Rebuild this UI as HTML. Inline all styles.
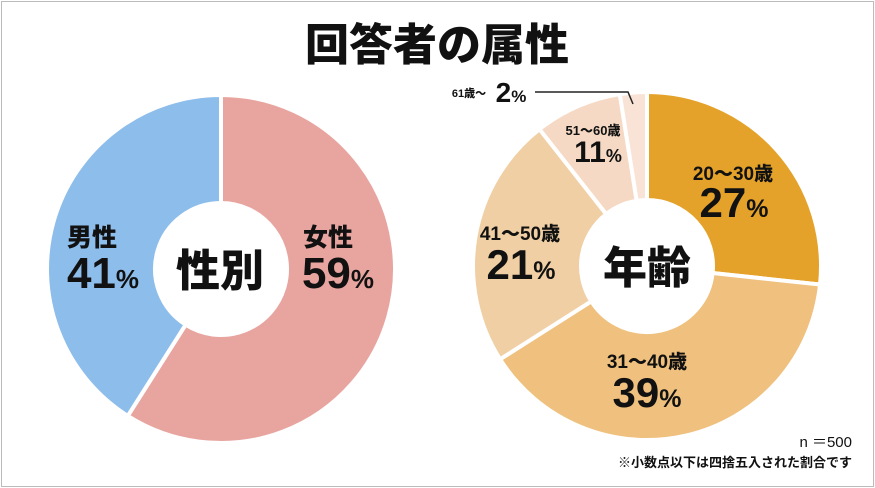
<!DOCTYPE html>
<html><head><meta charset="utf-8"><style>
html,body{margin:0;padding:0;background:#fff}
body{width:875px;height:488px;overflow:hidden;font-family:"Liberation Sans","Noto Sans CJK JP",sans-serif}
#frame{position:absolute;left:1px;top:1px;width:871px;height:484px;border:1px solid #bbb}
</style></head><body>
<div id="frame"></div>
<svg id="svg" width="875" height="488" style="position:absolute;left:0;top:0">
<text x="437" y="60" text-anchor="middle" font-size="44" font-weight="900" fill="#111" font-family="Liberation Sans, Noto Sans CJK JP, sans-serif">回答者の属性</text>
</svg>
<script>
const genderCats=["女性","男性"];
const genderVals=[59,41];
const ageCats=["20〜30歳","31〜40歳","41〜50歳","51〜60歳","61歳〜"];
const ageVals=[26.7,39.3,23.4,8.1,2.5];
const ageLabels=[27,39,21,11,2];
const genderColors=["#e8a5a0","#8dbdea"];
const ageColors=["#e5a22a","#efc07e","#f0cfa4","#f5d9c4","#f9e3d6"];
const NS="http://www.w3.org/2000/svg";
const svg=document.getElementById('svg');
const FONT='Liberation Sans, Noto Sans CJK JP, sans-serif';
function pt(cx,cy,r,a){return [cx+r*Math.sin(a),cy-r*Math.cos(a)];}
function donut(cx,cy,R,r,vals,colors,name){
 const tot=vals.reduce((a,b)=>a+b,0);let acc=0;
 vals.forEach((v,i)=>{
  const a0=acc/tot*2*Math.PI;acc+=v;const a1=acc/tot*2*Math.PI;
  const lg=(a1-a0)>Math.PI?1:0;
  const p0=pt(cx,cy,R,a0),p1=pt(cx,cy,R,a1),q1=pt(cx,cy,r,a1),q0=pt(cx,cy,r,a0);
  const p=document.createElementNS(NS,'path');
  p.setAttribute('d',`M${p0}A${R},${R} 0 ${lg} 1 ${p1}L${q1}A${r},${r} 0 ${lg} 0 ${q0}Z`);
  p.setAttribute('fill',colors[i]);p.setAttribute('stroke','#fff');p.setAttribute('stroke-width','4');
  
  
  svg.appendChild(p);
 });
 const c=document.createElementNS(NS,'circle');
 c.setAttribute('cx',cx);c.setAttribute('cy',cy);c.setAttribute('r',r);c.setAttribute('fill','#fff');
 
 
 svg.appendChild(c);
}
function txt(x,y,s,size,name){
 const t=document.createElementNS(NS,'text');
 t.setAttribute('x',x);t.setAttribute('y',y);t.setAttribute('text-anchor','middle');
 t.setAttribute('font-size',size);t.setAttribute('font-weight','900');t.setAttribute('fill','#111');
 t.setAttribute('font-family',FONT);
 t.innerHTML=s;
 
 
 svg.appendChild(t);return t;
}
function pct(v,big){return v+'<tspan font-size="'+Math.round(big*0.6)+'">%</tspan>';}
donut(221,269,174,66,genderVals,genderColors,'gender');
donut(647,266,174,66,ageVals,ageColors,'age');
txt(220,286,'性別',44,'gender-center-label');
txt(647,283,'年齢',44,'age-center-label');
txt(328,246,genderCats[0],25,'female-label');
txt(338,288,pct(genderVals[0],44),44,'female-value');
txt(92,246,genderCats[1],25,'male-label');
txt(103,288,pct(genderVals[1],44),44,'male-value');
txt(733,180,ageCats[0],19,'age-20-30-label');
txt(734,217,pct(ageLabels[0],42),42,'age-20-30-value');
txt(647,368,ageCats[1],19,'age-31-40-label');
txt(647,407,pct(ageLabels[1],42),42,'age-31-40-value');
txt(520,240,ageCats[2],19,'age-41-50-label');
txt(521,279,pct(ageLabels[2],42),42,'age-41-50-value');
txt(593,135,ageCats[3],13,'age-51-60-label');
txt(598,162,pct(ageLabels[3],30),30,'age-51-60-value');
txt(469,97,ageCats[4],11,'age-61-label');
txt(511,102,pct(ageLabels[4],28),28,'age-61-value');
const l=document.createElementNS(NS,'path');
l.setAttribute('d','M535,92 L628,92 L633,104');l.setAttribute('stroke','#222');l.setAttribute('fill','none');l.setAttribute('stroke-width','1.5');


svg.appendChild(l);
const n=txt(852,447,'n ＝500',15,'sample-size');n.setAttribute('text-anchor','end');n.setAttribute('font-weight','400');
const f=txt(852,467,'※小数点以下は四捨五入された割合です',13,'rounding-note');f.setAttribute('text-anchor','end');f.setAttribute('font-weight','700');
</script>
</body></html>
